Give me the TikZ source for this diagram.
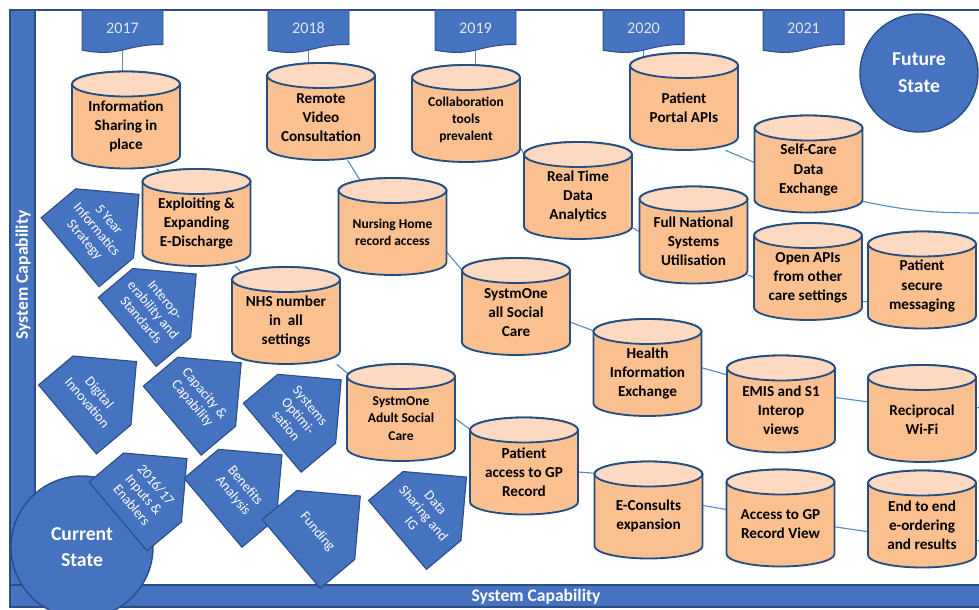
\documentclass[tikz,border=0pt]{standalone}
\usepackage{fontspec}
\setmainfont{Carlito}
\usetikzlibrary{backgrounds}
\definecolor{capblue}{RGB}{70,115,192}
\definecolor{capedge}{RGB}{44,78,134}
\definecolor{cylfill}{RGB}{250,192,143}
\definecolor{cyltopfill}{RGB}{252,217,192}
\definecolor{cylline}{RGB}{36,78,128}
\definecolor{linkblue}{RGB}{84,140,200}
\definecolor{yeartxt}{RGB}{225,233,245}

% cylinder: [text options]{name}{centre}{text}
\newcommand{\cyl}[4][]{%
  \begin{scope}[shift={(#3)}]
    \draw[cylbody] (-54,36) -- (-54,-36) arc[start angle=180, end angle=360, x radius=54, y radius=12.5]
      -- (54,36) arc[start angle=0, end angle=180, x radius=54, y radius=12.5] -- cycle;
    \draw[cyltop] (0,36) ellipse[x radius=54, y radius=12.5];
  \end{scope}
  \node[cyltext, #1] (#2) at (#3) {#4};}

% home plate: {name}{centre}{text}
\newcommand{\plate}[3]{%
  \begin{scope}[shift={(#2)}, rotate=-50]
    \draw[platebox] (-45,-45) -- (45,-45) -- (45,0) -- (0,45) -- (-45,0) -- cycle;
    \node[platetext] (#1) at (0,-11) {#3};
  \end{scope}}

% year banner: {name}{left x}{year}
\newcommand{\yearflag}[3]{%
  \begin{scope}[shift={(#2,-10)}]
    \draw[yearbox] (0,0) -- (81,0) -- (81,-34.5) .. controls (40.5,-34.5) and (40.5,-47.6) .. (0,-40.2) -- cycle;
  \end{scope}
  \node[yeartext] (#1) at (#2+40.5,-28) {#3};}

\begin{document}
\begin{tikzpicture}[
  x=0.025cm, y=0.025cm,
  cylbody/.style={draw=cylline, fill=cylfill, line width=1.3pt},
  cyltop/.style={draw=cylline, fill=cyltopfill, line width=1.3pt},
  cyltext/.style={minimum width=2.7cm, minimum height=2.125cm, inner sep=0pt, align=center, yshift=-0.15cm,
    font=\fontsize{10.8}{13.6}\selectfont\bfseries},
  cylsmall/.style={font=\fontsize{9.6}{12.2}\selectfont\bfseries},
  platebox/.style={draw=capedge, fill=capblue, line width=0.8pt},
  platetext/.style={rotate=-50, align=center, text=white, inner sep=1pt, font=\fontsize{10}{11.2}\selectfont},
  yearbox/.style={draw=capedge, fill=capblue, line width=0.7pt},
  yeartext/.style={minimum width=2.025cm, minimum height=0.9cm, inner sep=0pt, text=yeartxt, font=\fontsize{11.5}{13}\selectfont},
  statecircle/.style={circle, draw=capedge, fill=capblue, line width=1pt, align=center, text=white, inner sep=0pt,
    font=\fontsize{14}{19}\selectfont\bfseries},
  bar/.style={draw=capedge, fill=capblue, line width=0.8pt},
  bartext/.style={text=white, font=\fontsize{12.5}{14}\selectfont\bfseries},
  link/.style={draw=linkblue, line width=0.8pt}
]
\useasboundingbox (0,0) rectangle (979,-610);
\clip (0,0) rectangle (979,-610);

% frame
\draw[bar] (10,-10) rectangle (35,-607);
\draw[bar] (10,-585) rectangle (981,-607);
\draw[capedge, line width=1.5pt] (10,-10) -- (981,-10);
\node[bartext, rotate=90] (leftcap) at (23,-275) {System Capability};
\node[bartext] (bottomcap) at (536,-597) {System Capability};

% years
\yearflag{y2017}{82}{2017}
\yearflag{y2018}{268}{2018}
\yearflag{y2019}{435}{2019}
\yearflag{y2020}{603}{2020}
\yearflag{y2021}{763}{2021}

% capabilities
\cyl{info}{126,-120}{Information\\Sharing in\\place}
\cyl{remote}{321,-111.5}{Remote\\Video\\Consultation}
\cyl[cylsmall]{collab}{466,-113.5}{Collaboration\\tools\\prevalent}
\cyl{portal}{684,-101.5}{Patient\\Portal APIs}
\cyl{selfcare}{808.5,-164}{Self-Care\\Data\\Exchange}
\cyl{exploit}{196.5,-217.5}{Exploiting \&\\Expanding\\E-Discharge}
\cyl[cylsmall]{nursing}{392.5,-226.5}{Nursing Home\\record access}
\cyl{realtime}{578,-190.5}{Real Time\\Data\\Analytics}
\cyl{national}{693.5,-235}{Full National\\Systems\\Utilisation}
\cyl{openapi}{808,-271.5}{Open APIs\\from other\\care settings}
\cyl{secure}{922,-280}{Patient\\secure\\messaging}
\cyl{nhs}{286,-315.5}{NHS number\\in\ \ all\\settings}
\cyl{allsocial}{516,-306.5}{SystmOne\\all Social\\Care}
\cyl{hie}{647.5,-367.5}{Health\\Information\\Exchange}
\cyl{emis}{781,-404}{EMIS and S1\\Interop\\views}
\cyl{wifi}{922,-413.5}{Reciprocal\\Wi-Fi}
\cyl[cylsmall]{adult}{401,-412.5}{SystmOne\\Adult Social\\Care}
\cyl{gpaccess}{524,-466}{Patient\\access to\ GP\\Record}
\cyl{econsult}{648.5,-510}{E-Consults\\expansion}
\cyl{gpview}{780.5,-518}{Access to GP\\Record View}
\cyl{eorder}{922,-519}{End to end\\e-ordering\\and results}

% enablers
\plate{fiveyear}{104.6,-223.3}{5 Year\\Informatics\\Strategy}
\plate{interop}{161.7,-303}{Interop-\\erability and\\Standards}
\plate{digital}{102,-390.5}{Digital\\Innovation}
\plate{capacity}{206.7,-391.7}{Capacity \&\\Capability}
\plate{optim}{306.7,-408.8}{Systems\\Optimi-\\sation}

\node[statecircle, minimum size=3.55cm] (current) at (82,-547) {Current\\State};
\node[statecircle, minimum size=2.95cm] (future) at (919,-73) {Future\\State};

\plate{inputs}{152.5,-487.5}{2016/17\\Inputs \&\\Enablers}
\plate{benefits}{247.5,-483.8}{Benefits\\Analysis}
\plate{funding}{325.8,-525}{Funding}
\plate{datashare}{432,-506}{Data\\Sharing and\\IG}

\coordinate (edgeA) at (981,-213);
\coordinate (edgeB) at (981,-407);
\coordinate (edgeC) at (981,-541);

\begin{scope}[on background layer]
  \draw[link] (y2017) -- (y2017 |- info);
  \draw[link] (y2018) -- (y2018 |- remote);
  \draw[link] (y2019) -- (y2019 |- collab);
  \draw[link] (y2020) -- (y2020 |- portal);
  \draw[link] (info) -- (exploit);
  \draw[link] (remote) -- (nursing);
  \draw[link] (collab.-27) -- (realtime.north west);
  \draw[link] (portal.-46) -- (selfcare.172);
  \draw[link] (selfcare.-30) to[out=-12, in=180] (edgeA);
  \draw[link] (exploit) -- (nhs);
  \draw[link] (nursing.-20) -- (allsocial.north west);
  \draw[link] (realtime.-30) -- (national.170);
  \draw[link] (national.-32) -- (openapi.west);
  \draw[link] (openapi.-24) -- (secure.196);
  \draw[link] (nhs) -- (adult);
  \draw[link] (allsocial.-10) -- (hie.north west);
  \draw[link] (hie.6) -- (emis.147);
  \draw[link] (emis.13) -- (wifi.162);
  \draw[link] (wifi.12) -- (edgeB);
  \draw[link] (adult.east) -- (gpaccess.north west);
  \draw[link] (gpaccess.east) -- (econsult.north west);
  \draw[link] (econsult.11) -- (gpview.165);
  \draw[link] (gpview.-3) -- (eorder.187);
  \draw[link] (eorder.-16) -- (edgeC);
\end{scope}

\end{tikzpicture}
\end{document}
